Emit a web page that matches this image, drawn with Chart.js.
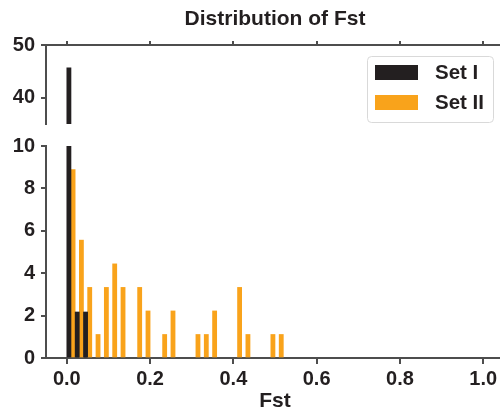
<!DOCTYPE html>
<html>
<head>
<meta charset="UTF-8">
<title>Distribution of Fst</title>
<script src="https://cdn.jsdelivr.net/npm/chart.js@4.4.1/dist/chart.umd.min.js"></script>
<style>
  html, body { margin: 0; padding: 0; background: #fff; overflow: hidden; }
  #wrap { position: relative; width: 500px; height: 414px; overflow: hidden; }
  canvas { position: absolute; left: 0; }
  #top { top: 0; }
  #bottom { top: 128px; }
</style>
</head>
<body>
<div id="wrap">
  <canvas id="bottom" width="510" height="286"></canvas>
  <canvas id="top" width="510" height="142"></canvas>
</div>
<script>
var setIBins = [0.01, 0.03, 0.05];
var setIValues = [45.65, 2.17, 2.17];
var setIIBins = [0.01, 0.03, 0.05, 0.07, 0.09, 0.11, 0.13, 0.17, 0.19, 0.23, 0.25, 0.31, 0.33, 0.35, 0.41, 0.43, 0.49, 0.51];
var setIIValues = [8.89, 5.56, 3.33, 1.11, 3.33, 4.44, 3.33, 3.33, 2.22, 1.11, 2.22, 1.11, 1.11, 2.22, 3.33, 1.11, 1.11, 1.11];
var xTicks = [0.0, 0.2, 0.4, 0.6, 0.8, 1.0];
var lowerTicks = [0, 2, 4, 6, 8, 10];
var upperTicks = [40, 50];

var textColor = '#231f20';
var axisColor = '#4d4d4d';
var black = '#231f20';
var orange = '#f9a31b';
var fontFamily = '"Liberation Sans", Arial, sans-serif';

Chart.defaults.font.family = fontFamily;
Chart.defaults.font.size = 20;
Chart.defaults.font.weight = 'bold';
Chart.defaults.color = textColor;

function points(xs, ys) {
    return xs.map(function (x, i) { return {x: x, y: ys[i]}; });
}

function makeDatasets() {
    return [{
        label: 'Set I',
        data: points(setIBins, setIValues),
        backgroundColor: black,
        borderWidth: 0,
        barPercentage: 1,
        categoryPercentage: 1,
        clip: 0
    }, {
        label: 'Set II',
        data: points(setIIBins, setIIValues),
        backgroundColor: orange,
        borderWidth: 0,
        barPercentage: 1,
        categoryPercentage: 1,
        clip: 0
    }];
}

function xAxis(position) {
    var bottom = position == 'bottom';
    return {
        type: 'linear',
        position: position,
        min: -0.05,
        max: 1.05,
        offset: false,
        afterBuildTicks: function (s) { s.ticks = xTicks.map(function (v) { return {value: v}; }); },
        afterFit: function (s) { s.height = bottom ? 56 : 13.4; },
        ticks: { display: bottom, padding: 3.3, callback: function (v) { return v.toFixed(1); } },
        grid: { drawOnChartArea: false, offset: false, tickLength: bottom ? 6 : 4, lineWidth: 2, color: axisColor },
        border: { display: true, color: axisColor, width: 2 },
        title: { display: bottom, text: 'Fst', padding: {top: 0, bottom: 0}, font: { size: 21, weight: 'bold' } }
    };
}

function yAxis(min, max, tickList) {
    return {
        min: min,
        max: max,
        afterBuildTicks: function (s) { s.ticks = tickList.map(function (v) { return {value: v}; }); },
        afterFit: function (s) { s.width = 46; },
        ticks: { padding: 6 },
        grid: { drawOnChartArea: false, tickLength: 5, lineWidth: 2, color: axisColor },
        border: { display: true, color: axisColor, width: 2 }
    };
}

// legend box drawn inside the upper panel, like the reference
var boxLegend = {
    id: 'boxLegend',
    afterDraw: function (chart) {
        var ctx = chart.ctx, a = chart.chartArea;
        var w = 126, h = 66;
        var x = a.right - 11 - w, y = a.top + 11;
        ctx.save();
        ctx.beginPath();
        ctx.roundRect(x + 0.5, y + 0.5, w, h, 4);
        ctx.fillStyle = 'rgba(255,255,255,0.8)';
        ctx.fill();
        ctx.strokeStyle = '#d9d9d9';
        ctx.lineWidth = 1;
        ctx.stroke();
        ctx.font = 'bold 20.5px ' + fontFamily;
        ctx.textBaseline = 'middle';
        chart.data.datasets.forEach(function (ds, i) {
            var ry = y + 9 + i * 30;
            ctx.fillStyle = ds.backgroundColor;
            ctx.fillRect(x + 8, ry, 43, 15);
            ctx.fillStyle = textColor;
            ctx.fillText(ds.label, x + 68, ry + 8);
        });
        ctx.restore();
    }
};

new Chart(document.getElementById('top'), {
    type: 'bar',
    data: { datasets: makeDatasets() },
    options: {
        responsive: false,
        animation: false,
        devicePixelRatio: 1,
        layout: { padding: {top: 0, left: 0, right: 6, bottom: 12} },
        scales: { x: xAxis('top'), y: yAxis(35, 50, upperTicks) },
        plugins: {
            legend: { display: false },
            tooltip: { enabled: false },
            title: {
                display: true,
                fullSize: false,
                text: 'Distribution of Fst',
                padding: {top: 6.4, bottom: 0},
                font: { size: 21, weight: 'bold' }
            }
        }
    },
    plugins: [boxLegend]
});

new Chart(document.getElementById('bottom'), {
    type: 'bar',
    data: { datasets: makeDatasets() },
    options: {
        responsive: false,
        animation: false,
        devicePixelRatio: 1,
        layout: { padding: {top: 17, left: 0, right: 6, bottom: 0} },
        scales: { x: xAxis('bottom'), y: yAxis(0, 10, lowerTicks) },
        plugins: {
            legend: { display: false },
            tooltip: { enabled: false },
            title: { display: false }
        }
    }
});
</script>
</body>
</html>
